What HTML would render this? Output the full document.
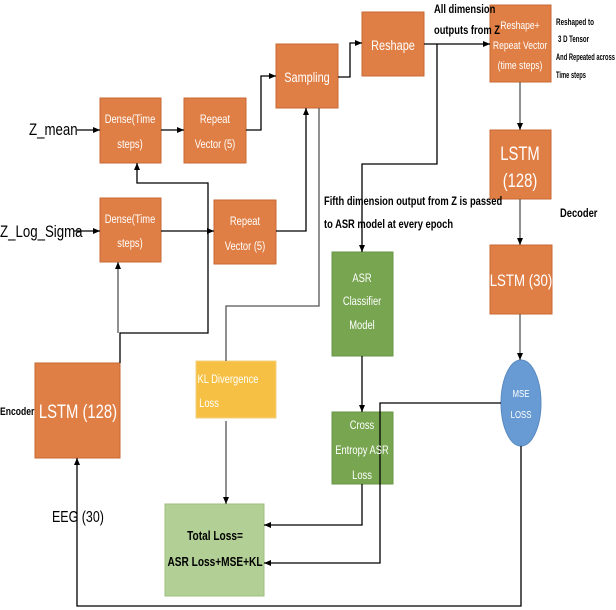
<!DOCTYPE html>
<html><head><meta charset="utf-8"><style>
html,body{margin:0;padding:0;background:#fff;}
svg{display:block;font-family:"Liberation Sans",sans-serif;}
.w{fill:#fff;}
.b{fill:#000;}
text{transform-box:fill-box;transform:scaleX(0.78);}
.w text,.mid{transform-origin:center;}
.b text{transform-origin:left center;}
.b text.mid{transform-origin:center;}
.b text.n{transform:none;}
</style></head><body>
<svg width="616" height="610" viewBox="0 0 616 610" xmlns="http://www.w3.org/2000/svg">
<defs><marker id="a" markerWidth="8" markerHeight="8" refX="7" refY="4" orient="auto" markerUnits="userSpaceOnUse"><path d="M0,1 L7,4 L0,7 z" fill="#000"/></marker></defs>
<g fill="#E07F45" stroke="#C96A35" stroke-width="1">
<rect x="100" y="98" width="61" height="65"/>
<rect x="184" y="98" width="62" height="65"/>
<rect x="100" y="198" width="61" height="64"/>
<rect x="214" y="200" width="62" height="64"/>
<rect x="276" y="44" width="62" height="64"/>
<rect x="362" y="12" width="62" height="64"/>
<rect x="490" y="5" width="61" height="77"/>
<rect x="490" y="130" width="61" height="69"/>
<rect x="490" y="245" width="62" height="69"/>
<rect x="35" y="363" width="85" height="95"/>
</g>
<rect x="332" y="252" width="61" height="104" fill="#77A550" stroke="#6A9646"/>
<rect x="332" y="412" width="61" height="72" fill="#77A550" stroke="#6A9646"/>
<rect x="165" y="504" width="99" height="92" fill="#B2D095" stroke="#9CBF7C"/>
<rect x="196" y="361" width="80" height="57" fill="#F5C043" stroke="#F2D080"/>
<ellipse cx="521" cy="403" rx="20" ry="43" fill="#689BD3" stroke="#5A8AC0"/>
<g stroke="#000" stroke-width="1.3" fill="none">
<line x1="77" y1="130" x2="100" y2="130" marker-end="url(#a)"/>
<line x1="74" y1="231" x2="100" y2="231" marker-end="url(#a)"/>
<line x1="161" y1="130" x2="184" y2="130" marker-end="url(#a)"/>
<line x1="161" y1="231" x2="214" y2="231" marker-end="url(#a)"/>
<polyline points="246,130 261,130 261,76 276,76" marker-end="url(#a)"/>
<polyline points="276,231 306,231 306,108" marker-end="url(#a)"/>
<polyline points="338,77 350,77 350,43 362,43" marker-end="url(#a)"/>
<line x1="424" y1="44" x2="490" y2="44" marker-end="url(#a)"/>
<polyline points="437,44 437,164 362,164 362,252" marker-end="url(#a)"/>
<line x1="362" y1="356" x2="362" y2="412" marker-end="url(#a)"/>
<line x1="520" y1="82" x2="520" y2="130" marker-end="url(#a)" stroke="#555"/>
<line x1="520" y1="199" x2="520" y2="245" marker-end="url(#a)" stroke="#555"/>
<line x1="520" y1="314" x2="520" y2="360" marker-end="url(#a)" stroke="#555"/>
<polyline points="501,403 380,403 380,563 264,563" marker-end="url(#a)"/>
<polyline points="362,484 362,525 264,525" marker-end="url(#a)"/>
<polyline points="319,108 319,306 226,306 226,361" stroke="#555"/>
<line x1="226" y1="421" x2="226" y2="504" marker-end="url(#a)" stroke="#555"/>
<polyline points="120,363 120,333 208,333 208,183 137,183 137,163" marker-end="url(#a)"/>
<line x1="118" y1="333" x2="118" y2="262" marker-end="url(#a)" stroke="#555"/>
<polyline points="521,446 521,606 77,606 77,458" marker-end="url(#a)"/>
</g>
<g class="w" font-size="12" text-anchor="middle">
<text x="130" y="123">Dense(Time</text><text x="130" y="148">steps)</text>
<text x="130" y="223">Dense(Time</text><text x="130" y="247">steps)</text>
<text x="215" y="123">Repeat</text><text x="215" y="148">Vector (5)</text>
<text x="245" y="225">Repeat</text><text x="245" y="250">Vector (5)</text>
<text x="307" y="82" font-size="14">Sampling</text>
<text x="393" y="50" font-size="14">Reshape</text>
<text x="520" y="29" font-size="11">Reshape+</text><text x="520" y="49" font-size="11">Repeat Vector</text><text x="520" y="69" font-size="11">(time steps)</text>
<text x="520" y="160" font-size="19">LSTM</text><text x="520" y="187" font-size="19">(128)</text>
<text x="521" y="286" font-size="17">LSTM (30)</text>
<text x="78" y="418" font-size="19">LSTM (128)</text>
<text x="362" y="282">ASR</text><text x="362" y="305">Classifier</text><text x="362" y="329">Model</text>
<text x="362" y="429">Cross</text><text x="362" y="454">Entropy ASR</text><text x="362" y="479">Loss</text>
<text x="521" y="397" font-size="10">MSE</text><text x="521" y="418" font-size="10">LOSS</text>
<text x="228" y="383">KL Divergence</text><text x="209" y="407">Loss</text>
</g>
<g class="b">
<text x="29" y="135" font-size="17">Z_mean</text>
<text x="0" y="237" font-size="17">Z_Log_Sigma</text>
<text x="52" y="522" font-size="16">EEG (30)</text>
<text x="0" y="415" font-size="11" font-weight="bold">Encoder</text>
<text x="560" y="217" font-size="12" font-weight="bold">Decoder</text>
<text x="434" y="13" font-size="12" font-weight="bold">All dimension</text>
<text x="434" y="34" font-size="12" font-weight="bold">outputs from Z</text>
<text class="n" x="556" y="25" font-size="9" font-weight="bold" textLength="38" lengthAdjust="spacingAndGlyphs">Reshaped to</text>
<text class="n" x="558" y="42" font-size="9" font-weight="bold" textLength="31" lengthAdjust="spacingAndGlyphs">3 D Tensor</text>
<text class="n" x="556" y="60" font-size="9" font-weight="bold" textLength="59" lengthAdjust="spacingAndGlyphs">And Repeated across</text>
<text class="n" x="556" y="78" font-size="9" font-weight="bold" textLength="30" lengthAdjust="spacingAndGlyphs">Time steps</text>
<text x="324" y="205" font-size="12" font-weight="bold">Fifth dimension output from Z is passed</text>
<text x="324" y="228" font-size="12" font-weight="bold">to ASR model at every epoch</text>
<text class="mid" x="215" y="540" font-size="13" font-weight="bold" text-anchor="middle">Total Loss=</text>
<text class="mid" x="215" y="566" font-size="13" font-weight="bold" text-anchor="middle">ASR Loss+MSE+KL</text>
</g>
</svg>
</body></html>
